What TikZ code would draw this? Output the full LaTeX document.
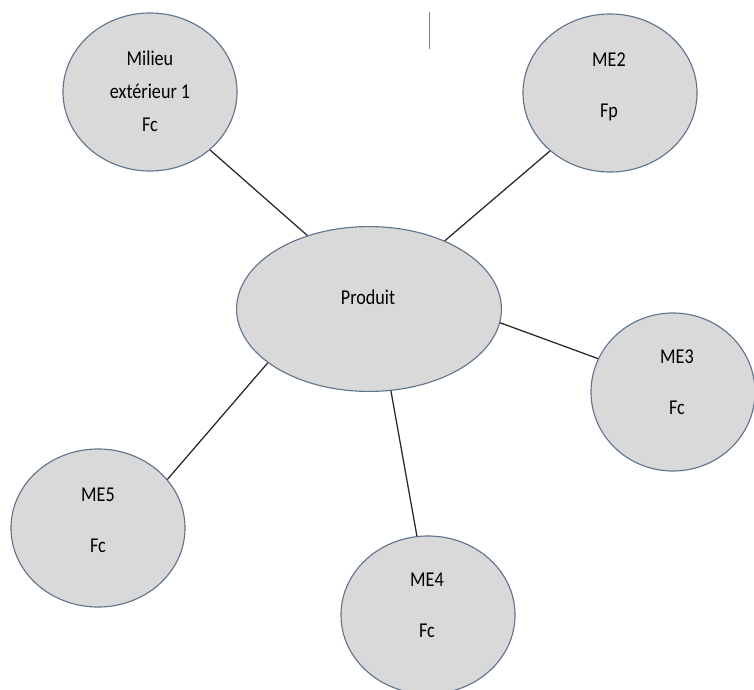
\documentclass[tikz,border=0pt]{standalone}
\usepackage{fontspec}
\setmainfont{Carlito}[FakeStretch=0.86]
\usetikzlibrary{shapes.geometric}
\definecolor{bubblefill}{RGB}{217,217,217}
\definecolor{bubbleedge}{RGB}{96,116,140}
\definecolor{linkline}{RGB}{40,40,40}
\tikzset{
	bubble/.style={ellipse, draw=bubbleedge, fill=bubblefill, line width=0.8pt, inner sep=0pt, minimum width=4.35cm, minimum height=3.95cm},
	bubbletext/.style={align=center, inner sep=0pt, font=\fontsize{15}{23.4}\selectfont, text=black},
	link/.style={draw=linkline, line width=0.9pt},
}
\begin{document}
\begin{tikzpicture}[x=0.025cm, y=-0.025cm]
			\useasboundingbox (0,0) rectangle (754,689);
			\node at (369,309) (prod) [bubble, minimum width=6.62cm, minimum height=4.12cm] {};
			\node at (150,92) (me1) [bubble] {};
			\node at (610,93) (me2) [bubble] {};
			\node at (673,392) (me3) [bubble, minimum width=4.1cm] {};
			\node at (428,615) (me4) [bubble] {};
			\node at (98,528) (me5) [bubble] {};
			% texts sit a little above the centres, as in the original
			\node at (368,297) (prodtxt) [bubbletext] {Produit};
			\node at (150,91) (me1txt) [bubbletext] {Milieu\\extérieur 1\\Fc};
			\node at (609,87) (me2txt) [bubbletext] {ME2\\[12.8pt]Fp};
			\node at (677,382) (me3txt) [bubbletext] {ME3\\[12.8pt]Fc};
			\node at (427,605) (me4txt) [bubbletext] {ME4\\[12.8pt]Fc};
			\node at (98,520) (me5txt) [bubbletext] {ME5\\[12.8pt]Fc};
			\draw[link] (me1.-44) -- (prod.130);
			\draw[link] (me2.224) -- (prod.42);
			\draw[link] (prod.-6) -- (me3.156);
			\draw[link] (prod.-75) -- (me4.98);
			\draw[link] (prod.208) -- (me5.35);
			% stray caret mark at the top
			\coordinate (caretA) at (429,12); \coordinate (caretB) at (429,49);
			\draw[gray, line width=0.6pt] (caretA) -- (caretB);
\end{tikzpicture}
\end{document}
